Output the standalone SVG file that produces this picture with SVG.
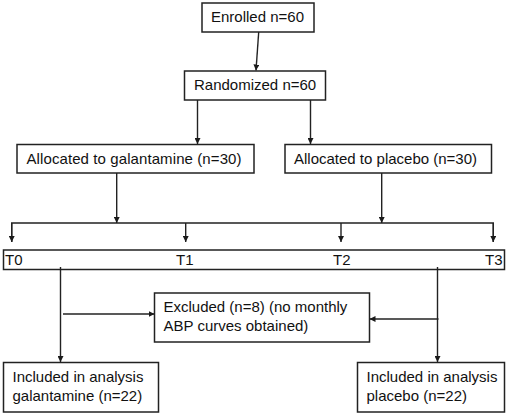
<svg xmlns="http://www.w3.org/2000/svg" width="510" height="415" viewBox="0 0 510 415">
<defs>
<marker id="ah" viewBox="0 0 10 10" refX="10" refY="5" markerWidth="6" markerHeight="6" markerUnits="userSpaceOnUse" orient="auto">
<path d="M0,0 L10,5 L0,10 Z" fill="#1a1a1a"/>
</marker>
</defs>
<style>
.box{fill:#fff;stroke:#222;stroke-width:1.5}
.t{font-family:"Liberation Sans",Arial,sans-serif;font-size:15px;fill:#111}
.c{fill:none;stroke:#222;stroke-width:1.4}
.a{marker-end:url(#ah)}
</style>
<rect width="510" height="415" fill="#fff"/>
<g id="enrolled"><rect class="box" x="202" y="3" width="112" height="29"/><text class="t" x="211" y="22">Enrolled n=60</text></g>
<g id="randomized"><rect class="box" x="184.5" y="71" width="141" height="29"/><text class="t" x="194" y="90">Randomized n=60</text></g>
<g id="alloc-gal"><rect class="box" x="17" y="144.5" width="237" height="28.5"/><text class="t" x="26.5" y="164" textLength="215">Allocated to galantamine (n=30)</text></g>
<g id="alloc-pla"><rect class="box" x="285" y="144.5" width="206.5" height="28.5"/><text class="t" x="294" y="164">Allocated to placebo (n=30)</text></g>
<g id="timeline"><rect class="box" x="3.5" y="250" width="501" height="19.5"/>
<text class="t" x="5" y="265">T0</text><text class="t" x="176" y="265">T1</text><text class="t" x="333" y="265">T2</text><text class="t" x="485" y="265">T3</text></g>
<g id="excluded"><rect class="box" x="154.5" y="293" width="215" height="49"/><text class="t" x="163.5" y="312">Excluded (n=8) (no monthly</text><text class="t" x="163.5" y="331">ABP curves obtained)</text></g>
<g id="incl-gal"><rect class="box" x="3.5" y="362.5" width="155" height="49.5"/><text class="t" x="12.5" y="382">Included in analysis</text><text class="t" x="12.5" y="400.5">galantamine (n=22)</text></g>
<g id="incl-pla"><rect class="box" x="357.5" y="362.5" width="147" height="49.5"/><text class="t" x="366.5" y="382">Included in analysis</text><text class="t" x="366.5" y="400.5">placebo (n=22)</text></g>
<g id="connectors">
<line class="c a" x1="258.7" y1="32" x2="256" y2="70.5"/>
<line class="c a" x1="197.5" y1="100" x2="197.5" y2="144"/>
<line class="c a" x1="310.5" y1="100" x2="310.5" y2="144"/>
<line class="c a" x1="116.7" y1="173" x2="116.7" y2="223"/>
<line class="c a" x1="381.7" y1="173" x2="381.7" y2="223"/>
<polyline class="c" points="11.7,242 11.7,223 493.3,223 493.3,242"/>
<line class="c a" x1="11.7" y1="223" x2="11.7" y2="242"/>
<line class="c a" x1="493.3" y1="223" x2="493.3" y2="242"/>
<line class="c a" x1="185.7" y1="223" x2="185.7" y2="242"/>
<line class="c a" x1="341" y1="223" x2="341" y2="242"/>
<line class="c a" x1="60.5" y1="267" x2="60.5" y2="362"/>
<line class="c a" x1="63" y1="314" x2="154.5" y2="314"/>
<line class="c a" x1="437.5" y1="267" x2="437.5" y2="362"/>
<line class="c a" x1="438.5" y1="319" x2="369.5" y2="319"/>
</g>
</svg>
